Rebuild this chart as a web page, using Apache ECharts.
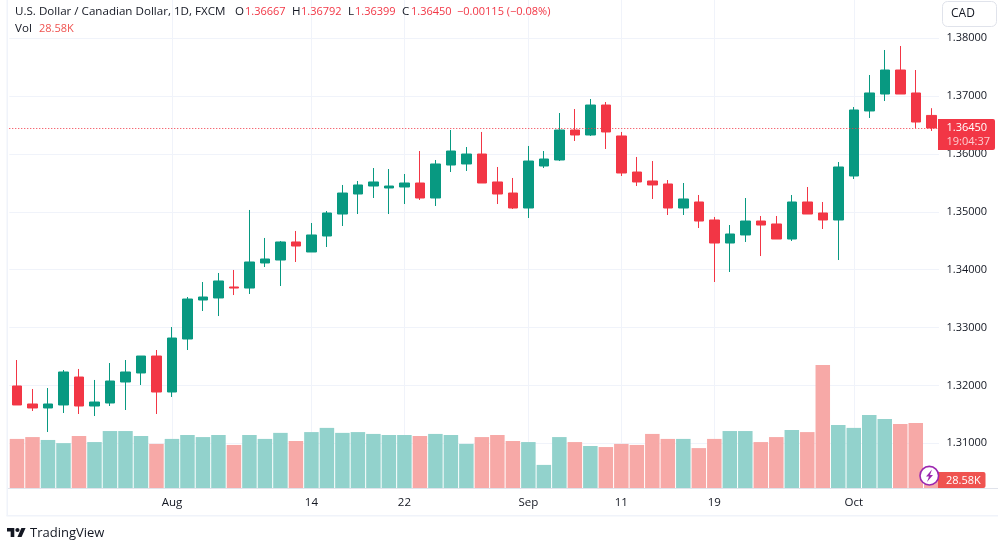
<!DOCTYPE html>
<html><head><meta charset="utf-8">
<style>html,body{margin:0;padding:0;background:#fff}#c{width:998px;height:550px}</style>
<script src="https://cdn.jsdelivr.net/npm/echarts@6/dist/echarts.min.js"></script>
</head><body><div id="c"></div>
<script>
const categories = ['2023-07-18','2023-07-19','2023-07-20','2023-07-21','2023-07-24','2023-07-25','2023-07-26','2023-07-27','2023-07-28','2023-07-31',
'2023-08-01','2023-08-02','2023-08-03','2023-08-04','2023-08-07','2023-08-08','2023-08-09','2023-08-10','2023-08-11','2023-08-14',
'2023-08-15','2023-08-16','2023-08-17','2023-08-18','2023-08-21','2023-08-22','2023-08-23','2023-08-24','2023-08-25','2023-08-28',
'2023-08-29','2023-08-30','2023-08-31','2023-09-01','2023-09-04','2023-09-05','2023-09-06','2023-09-07','2023-09-08','2023-09-11',
'2023-09-12','2023-09-13','2023-09-14','2023-09-15','2023-09-18','2023-09-19','2023-09-20','2023-09-21','2023-09-22','2023-09-25',
'2023-09-26','2023-09-27','2023-09-28','2023-09-29','2023-10-02','2023-10-03','2023-10-04','2023-10-05','2023-10-06','2023-10-09'];
const opens = [1.31991,1.31680,1.31611,1.31663,1.32146,1.31645,1.31697,1.32060,1.32216,1.32509,
1.31887,1.32803,1.33477,1.33512,1.33702,1.33684,1.34117,1.34168,1.34480,1.34307,
1.34583,1.34963,1.35309,1.35447,1.35413,1.35430,1.35499,1.35240,1.35810,1.35828,
1.36000,1.35517,1.35326,1.35067,1.35793,1.35897,1.36415,1.36329,1.36847,1.36312,
1.35689,1.35534,1.35482,1.35067,1.35171,1.34860,1.34462,1.34601,1.34842,1.34791,
1.34531,1.35171,1.34981,1.34860,1.35620,1.36744,1.37037,1.37452,1.37055,1.36667];
const closes = [1.31663,1.31611,1.31680,1.32233,1.31645,1.31714,1.32077,1.32233,1.32509,1.31887,
1.32820,1.33494,1.33529,1.33806,1.33684,1.34134,1.34186,1.34480,1.34410,1.34601,
1.34981,1.35326,1.35465,1.35517,1.35447,1.35499,1.35240,1.35828,1.36052,1.36000,
1.35499,1.35309,1.35067,1.35879,1.35914,1.36415,1.36329,1.36847,1.36381,1.35672,
1.35517,1.35465,1.35067,1.35223,1.34842,1.34462,1.34618,1.34842,1.34773,1.34531,
1.35171,1.34963,1.34860,1.35776,1.36761,1.37055,1.37452,1.37037,1.36553,1.36450];
const lows = [1.31663,1.31559,1.31196,1.31524,1.31507,1.31472,1.31645,1.31576,1.32008,1.31507,
1.31801,1.32613,1.33287,1.33200,1.33563,1.33581,1.34047,1.33719,1.34134,1.34307,
1.34393,1.34756,1.34963,1.35240,1.34963,1.35136,1.35206,1.35102,1.35689,1.35707,
1.35499,1.35136,1.35050,1.34894,1.35758,1.35879,1.36225,1.36312,1.36087,1.35620,
1.35447,1.35223,1.34946,1.34946,1.34721,1.33788,1.33961,1.34480,1.34237,1.34531,
1.34497,1.34963,1.34704,1.34168,1.35568,1.36623,1.36916,1.37037,1.36450,1.36399];
const highs = [1.32440,1.31939,1.31956,1.32267,1.32285,1.32095,1.32388,1.32440,1.32509,1.32613,
1.33010,1.33529,1.33788,1.33944,1.33996,1.35033,1.34549,1.34497,1.34670,1.34808,
1.35015,1.35465,1.35534,1.35758,1.35741,1.35655,1.36052,1.35897,1.36415,1.36121,
1.36381,1.35776,1.35586,1.36139,1.36052,1.36709,1.36778,1.36951,1.36899,1.36381,
1.35949,1.35879,1.35551,1.35499,1.35292,1.34912,1.34773,1.35240,1.34929,1.34929,
1.35292,1.35430,1.35171,1.35862,1.36813,1.37366,1.37798,1.37867,1.37452,1.36792];
const volumes = [187,194,183,171,198,175,217,217,198,168,
187,202,194,202,164,202,187,210,179,213,
229,210,213,206,202,202,198,206,202,168,
194,202,179,175,88,194,175,160,156,168,
164,206,187,187,152,187,217,217,175,194,
221,213,469,240,229,278,263,244,248,28.58];
const tickLabels = {'2023-08-01':'Aug','2023-08-14':'14','2023-08-22':'22','2023-09-01':'Sep','2023-09-11':'11','2023-09-19':'19','2023-10-02':'Oct'};
const priceTicks = [1.31,1.32,1.33,1.34,1.35,1.36,1.37,1.38];
const lastPrice = 1.36450;

const UP='#089981', DOWN='#F23645', VUP='#92d2cc', VDOWN='#f7a9a7', GRID='#f0f3fa', INK='#131722';
const FONT='"Open Sans", sans-serif';
const t=(text,x,y,fill,size,extra)=>({type:'text',z:20,style:Object.assign({text,x,y,fill,fontSize:size||12,fontFamily:FONT,textVerticalAlign:'middle'},extra||{})});
const chart=echarts.init(document.getElementById('c'),null,{renderer:'canvas'});
chart.setOption({
  animation:false,
  backgroundColor:'#fff',
  grid:{left:9.25,right:59,top:0,bottom:62,containLabel:false},
  xAxis:{type:'category',data:categories,boundaryGap:true,
    axisLine:{show:false},axisTick:{show:false},splitLine:{show:false},
    axisLabel:{color:INK,fontSize:11.5,fontFamily:FONT,margin:8.5,
      interval:(i,v)=>v in tickLabels,formatter:v=>tickLabels[v]||''}},
  yAxis:[
    {type:'value',position:'right',min:1.30228,max:1.38662,scale:true,
      axisLine:{show:false},
      axisTick:{show:false,customValues:priceTicks},
      splitLine:{show:true,lineStyle:{color:GRID,width:1}},
      axisLabel:{customValues:priceTicks,color:INK,fontSize:11,fontFamily:FONT,margin:7.5,padding:[4,0,0,0],formatter:v=>v.toFixed(5)}},
    {type:'value',min:0,max:1859,show:false,splitLine:{show:false}}
  ],
  series:[
    {type:'bar',yAxisIndex:1,z:2,barWidth:14.5,
      data:volumes.map((v,i)=>({value:v,itemStyle:{color:closes[i]>=opens[i]?VUP:VDOWN}})),
      markLine:{silent:true,symbol:'none',z:1,animation:false,label:{show:false},
        lineStyle:{color:GRID,width:1,type:'solid'},
        data:Object.keys(tickLabels).map(d=>({xAxis:d}))}},
    {type:'candlestick',yAxisIndex:0,z:3,barWidth:10,
      data:categories.map((_,i)=>[opens[i],closes[i],lows[i],highs[i]]),
      itemStyle:{color:UP,color0:DOWN,borderColor:UP,borderColor0:DOWN,borderWidth:1},
      markLine:{silent:true,symbol:'none',z:4,animation:false,precision:5,label:{show:false},
        lineStyle:{color:DOWN,width:1,type:[1,2]},
        data:[{yAxis:lastPrice}]}}
  ],
  graphic:[
    {type:'rect',z:1,shape:{x:6.5,y:0,width:1.5,height:516},style:{fill:GRID}},
    {type:'rect',z:1,shape:{x:6.5,y:515,width:991.5,height:1.5},style:{fill:GRID}},
    {type:'rect',z:5,shape:{x:8,y:488,width:990,height:1},style:{fill:'#e0e3eb'}},
    t('U.S. Dollar / Canadian Dollar, 1D, FXCM',15,12,INK,11.6),
    t('O',235,12,INK,11.6),t('1.36667',245,12,DOWN,11),
    t('H',292,12,INK,11.6),t('1.36792',301,12,DOWN,11),
    t('L',348,12,INK,11.6),t('1.36399',355,12,DOWN,11),
    t('C',402,12,INK,11.6),t('1.36450',411,12,DOWN,11),
    t('\u22120.00115 (\u22120.08%)',457,12,DOWN,11),
    t('Vol',15,29,INK,11.6),t('28.58K',39,29,'#ef5350',11),
    {type:'rect',z:20,shape:{x:942.5,y:1.5,width:54,height:25,r:5},style:{fill:'#fff',stroke:'#e0e3eb',lineWidth:1}},
    t('CAD',951,14,INK,12),
    {type:'rect',z:20,shape:{x:938,y:119,width:57,height:31,r:[0,2,2,0]},style:{fill:DOWN}},
    t('1.36450',946.5,127.5,'#fff',11),
    t('19:04:37',946.5,142,'rgba(255,255,255,0.75)',11),
    {type:'rect',z:20,shape:{x:938,y:472,width:47.5,height:16,r:[0,2,2,0]},style:{fill:'#ef5350'}},
    t('28.58K',946,480.5,'#fff',11),
    {type:'circle',z:21,shape:{cx:929.3,cy:475.7,r:9.3},style:{fill:'#fff',stroke:'#9c27b0',lineWidth:1.6}},
    {type:'polygon',z:22,shape:{points:[[932,469.5],[926,476.5],[929,476.5],[927,482],[933,475],[930,475]]},style:{fill:'#9c27b0'}},
    {type:'polygon',z:20,shape:{points:[[14.3,537],[10.66,537],[10.66,531.5],[7,531.5],[7,528],[14.3,528]]},style:{fill:INK}},
    {type:'polygon',z:20,shape:{points:[[21.6,537],[17.44,537],[21.36,528],[25.54,528]]},style:{fill:INK}},
    {type:'circle',z:20,shape:{cx:17.44,cy:530,r:2.1},style:{fill:INK}},
    t('TradingView',30,533.5,INK,13)
  ]
});
</script></body></html>
